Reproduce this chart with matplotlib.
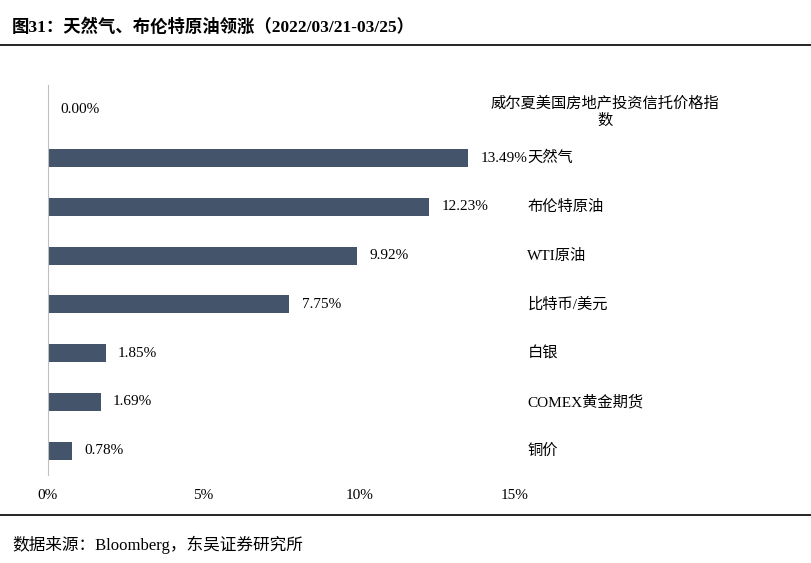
import matplotlib
matplotlib.use("Agg")
import matplotlib.pyplot as plt

plt.rcParams['font.family'] = ['Liberation Serif', 'Noto Sans CJK SC']

categories = ["威尔夏美国房地产投资信托价格指\n数", "天然气", "布伦特原油", "WTI原油", "比特币/美元", "白银", "COMEX黄金期货", "铜价"]
values = [0.00, 13.49, 12.23, 9.92, 7.75, 1.85, 1.69, 0.78]
xticks = [0, 5, 10, 15]
xticklabels = ["0%", "5%", "10%", "15%"]

fig = plt.figure(figsize=(8.12, 5.63), dpi=100)
ax = fig.add_axes([48/812, 1-475/563, 467/812, 390/563])
ys = list(range(len(categories)))
ax.barh(ys, values, height=0.37, color='#44546a')
ax.set_ylim(len(categories)-0.5, -0.5)
ax.set_xlim(0, 15)
for y, v, c in zip(ys, values, categories):
    ax.text(v + 0.4, y, f"{v:.2f}%", va='center', ha='left', fontsize=11)
    if '\n' in c:
        ax.text(17.9, y + 0.05, c, va='center', ha='center', fontsize=11, multialignment='center', clip_on=False)
    else:
        ax.text(15.4, y, c, va='center', ha='left', fontsize=11, clip_on=False)
ax.set_xticks(xticks)
ax.set_xticklabels(xticklabels, fontsize=11)
ax.set_yticks([])
ax.tick_params(axis='x', length=0, pad=10)
for s in ['top', 'right', 'bottom']:
    ax.spines[s].set_visible(False)
ax.spines['left'].set_color('#bfbfbf')

fig.text(12/812, 1-27/563, "图31：天然气、布伦特原油领涨（2022/03/21-03/25）", fontsize=12.5, fontweight='bold', va='center', ha='left')
fig.add_artist(plt.Line2D([0, 1], [1-45/563, 1-45/563], color='black', lw=1.2))
fig.add_artist(plt.Line2D([0, 1], [1-515/563, 1-515/563], color='black', lw=1.2))
fig.text(12/812, 1-545/563, "数据来源：Bloomberg，东吴证券研究所", fontsize=12, va='center', ha='left')
fig.savefig("out.png", dpi=100)
